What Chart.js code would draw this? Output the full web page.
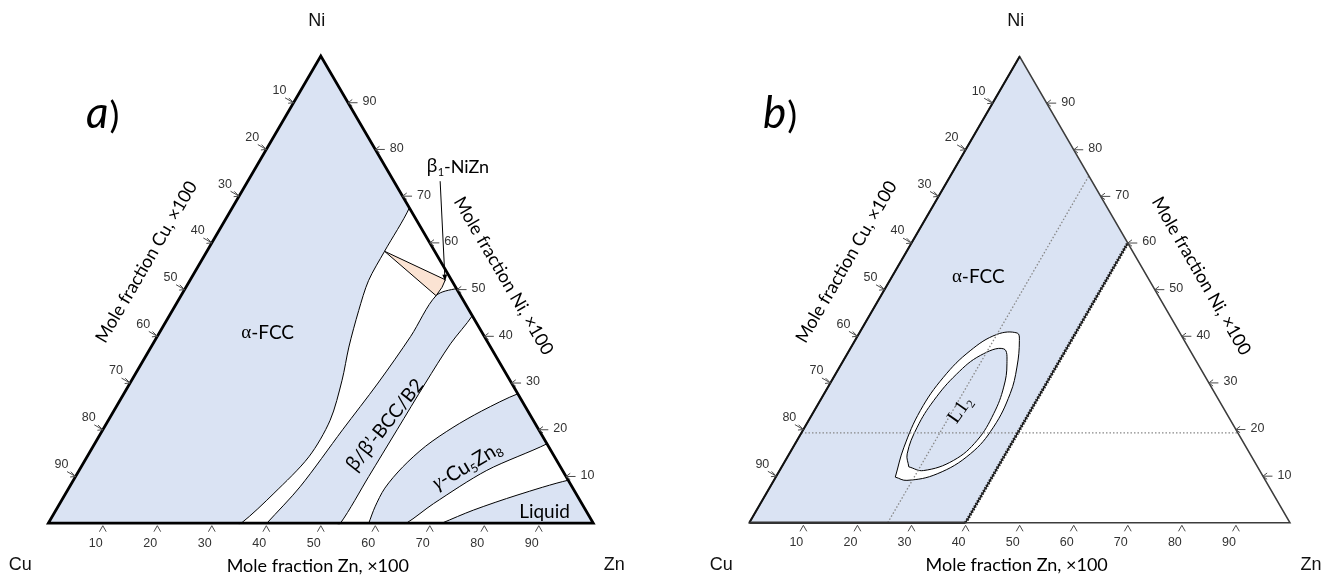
<!DOCTYPE html>
<html>
<head>
<meta charset="utf-8">
<title>Cu–Ni–Zn isothermal sections</title>
<script src="https://cdn.jsdelivr.net/npm/chart.js@4.4.1/dist/chart.umd.min.js"></script>
<style>
  html, body { margin: 0; padding: 0; background: #ffffff; }
  #wrap { position: relative; width: 1338px; height: 581px; overflow: hidden; background: #ffffff; }
  canvas { position: absolute; top: 0; }
</style>
</head>
<body>
<div id="wrap">
  <canvas id="panelA" width="669" height="581" style="left:0px"></canvas>
  <canvas id="panelB" width="669" height="581" style="left:669px"></canvas>
</div>
<script>
// Every composition below is a [Zn, Ni] pair in mole %, with Cu = 100 - Zn - Ni.
const tickValues = [10, 20, 30, 40, 50, 60, 70, 80, 90];

// ---- (a) phase fields ----
const alphaFieldA = [[0,100],[0,99],[0,1],[0,0],[1,0],[34.4,0],[35.4,0],[38.2,6.4],[40.7,14.2],[40.7,22],
  [38.6,30.6],[36.3,37.7],[34.2,45.5],[32.8,51.9],[32.6,58.2],[32.5,67.5],[31.5,68.5],[1,99],[0,100]];
const betaFieldA = [[40.1,0],[41.1,0],[52.6,0],[53.6,0],[53.8,10],[54.0,20],[54.2,30],[54.6,38.4],[55.6,44.4],
  [55.0,45.0],[50.4,49.6],[49.8,50.2],[46.8,48.7],[46.5,40],[45.5,30],[44.0,20],[42.3,7.8],[40.1,0]];
const beta1FieldA = [[32.6,58.2],[46.8,52.1],[47.0,50.5],[46.8,48.7],[32.6,58.2]];
const gammaFieldA = [[58.8,0],[59.8,0],[64.7,0],[65.7,0],[68.6,4.2],[74.8,11.3],[83.0,17.0],[82.4,17.6],
  [72.9,27.1],[72.3,27.7],[67.5,24.0],[64.0,20.5],[61.0,16.5],[59.0,12.0],[58.0,7.5],[58.2,3.5],[58.8,0]];
const liquidFieldA = [[72.2,0],[73.2,0],[99,0],[100,0],[99,1],[91.4,8.6],[90.8,9.2],[83.0,6.0],[76.6,2.8],[72.2,0]];

// ---- (b) phase fields ----
const fccFieldB = [[0,100],[0,0],[40,0],[40,60],[0,100]];
const fccLimitB = [[40,0],[40,60]];
const l12OuterB = [[22.1,9.8],[24.6,9.1],[29.5,10.5],[33.5,14.8],[34.9,20.5],[34.4,27.7],[32.8,33.4],[30.4,39.1],
  [29.2,40.7],[25.6,40.4],[22.4,36.9],[20.3,31.2],[19.6,24.1],[20.5,16.2],[22.1,9.8]];
const l12InnerB = [[23.5,12.0],[26.6,11.2],[31.1,13.4],[33.3,17.7],[33.5,23.4],[32.5,29.1],[30.6,34.1],[28.4,37.3],
  [24.8,35.9],[22.4,31.9],[21.0,26.2],[20.8,20.5],[21.8,14.8],[23.5,12.0]];
const guideZnB = [[25.6,0],[25.6,74.4]];
const guideNiB = [[0,19.3],[80.7,19.3]];

// triangle sides
const outline = [[50,0],[100,0],[0,100],[0,0],[50,0]];
const sideCuNi = [[0,0],[0,100]];
const baseUnderFcc = [[0,0],[40,0]];

const SQ = Math.sqrt(3) / 2;
const toXY = pairs => pairs.map(([zn, ni]) => ({ x: zn + ni / 2, y: ni * SQ }));

const BLUE = '#dae3f3';
const PEACH = '#fbe3d3';

function series(pairs, o) {
  return Object.assign({
    data: toXY(pairs), pointRadius: 0, borderColor: '#000', borderWidth: 1,
    backgroundColor: 'rgba(0,0,0,0)', fill: false, tension: 0
  }, o);
}

function richText(ctx, parts, x, y, angle, size, family, color) {
  ctx.save();
  ctx.translate(x, y);
  ctx.rotate(angle);
  ctx.fillStyle = color;
  ctx.textBaseline = 'middle';
  ctx.textAlign = 'left';
  const fonts = parts.map(p => (p.it ? 'italic ' : '') + (p.sub ? Math.round(size * 0.62) : size) + 'px ' + (p.f || family));
  let total = 0;
  const widths = parts.map((p, i) => { ctx.font = fonts[i]; const w = ctx.measureText(p.t).width; total += w; return w; });
  let cx = -total / 2;
  parts.forEach((p, i) => {
    ctx.font = fonts[i];
    ctx.fillText(p.t, cx, p.sub ? size * 0.3 : 0);
    cx += widths[i];
  });
  ctx.restore();
}

const SANS = '"Liberation Sans", Arial, sans-serif';
const BODY = 'Lato, "Open Sans", sans-serif';
const SERIF = '"Liberation Serif", "DejaVu Serif", serif';
const GREEK = '"Noto Sans", "DejaVu Sans", sans-serif';

function framePlugin(spec) {
  return {
    id: 'ternaryFrame',
    afterDraw(chart) {
      const ctx = chart.ctx;
      const xs = chart.scales.x, ys = chart.scales.y;
      const P = (zn, ni) => [xs.getPixelForValue(zn + ni / 2), ys.getPixelForValue(ni * SQ)];
      const [cuX, cuY] = P(0, 0), [niX, niY] = P(0, 100), [znX, znY] = P(100, 0);
      ctx.save();

      // axis ticks and numbers
      ctx.strokeStyle = '#4a4a4a';
      ctx.lineWidth = 1;
      ctx.fillStyle = '#333';
      ctx.font = '12.5px ' + SANS;
      ctx.textAlign = 'center';
      ctx.textBaseline = 'middle';
      tickValues.forEach(v => {
        let [x, y] = P(v, 0);
        ctx.beginPath(); ctx.moveTo(x - 3.4, y + 8.5); ctx.lineTo(x, y + 2.5); ctx.lineTo(x + 3.4, y + 8.5); ctx.stroke();
        ctx.fillText(String(v), x - 7, y + 20);

        [x, y] = P(0, 100 - v);
        ctx.beginPath(); ctx.moveTo(x - 8.5, y - 4.9); ctx.lineTo(x, y); ctx.stroke();
        ctx.beginPath(); ctx.moveTo(x - 4.8, y - 4.8); ctx.lineTo(x, y); ctx.lineTo(x - 5.4, y + 0.5); ctx.stroke();
        ctx.fillText(String(v), x - 14, y - 12);

        [x, y] = P(100 - v, v);
        ctx.beginPath(); ctx.moveTo(x + 9.5, y); ctx.lineTo(x, y); ctx.stroke();
        ctx.beginPath(); ctx.moveTo(x + 4.2, y - 3.2); ctx.lineTo(x, y); ctx.lineTo(x + 4.2, y + 3.2); ctx.stroke();
        ctx.fillText(String(v), x + 21.5, y - 1);
      });

      // corner elements
      ctx.fillStyle = '#111';
      ctx.font = '18px ' + SANS;
      ctx.fillText('Ni', niX - 4, niY - 35);
      ctx.fillText('Cu', cuX - 28, cuY + 42);
      ctx.fillText('Zn', znX + 21, znY + 42);

      // axis titles
      const leftAngle = Math.atan2(niY - cuY, niX - cuX);
      const rightAngle = Math.atan2(znY - niY, znX - niX);
      const [lmx, lmy] = P(0, 50), [rmx, rmy] = P(50, 50), [bmx, bmy] = P(50, 0);
      richText(ctx, [{ t: 'Mole fraction Cu, ×100' }], lmx - 38, lmy - 27.6, leftAngle, 18, BODY, '#000');
      richText(ctx, [{ t: 'Mole fraction Ni, ×100' }], rmx + 46.5, rmy - 13.7, rightAngle, 18, BODY, '#000');
      richText(ctx, [{ t: 'Mole fraction Zn, ×100' }], bmx - 3, bmy + 42.5, 0, 18, BODY, '#000');

      // panel letter
      ctx.fillStyle = '#000';
      ctx.textAlign = 'left';
      ctx.textBaseline = 'alphabetic';
      ctx.font = 'italic 44px ' + BODY;
      ctx.fillText(spec.letter, spec.letterX, 128);
      const lw = ctx.measureText(spec.letter).width;
      ctx.font = '37px ' + BODY;
      ctx.fillText(')', spec.letterX + lw + 1, 128);

      // phase names
      spec.labels.forEach(l => {
        const [x, y] = P(l.at[0], l.at[1]);
        richText(ctx, l.parts, x, y, (l.rot || 0) * Math.PI / 180, l.size || 19, BODY, '#000');
      });

      // pointer from a label to a small field
      if (spec.pointer) {
        const [x1, y1] = P(spec.pointer.from[0], spec.pointer.from[1]);
        const [x2, y2] = P(spec.pointer.to[0], spec.pointer.to[1]);
        const a = Math.atan2(y2 - y1, x2 - x1);
        ctx.strokeStyle = '#000';
        ctx.lineWidth = 1;
        ctx.beginPath(); ctx.moveTo(x1, y1); ctx.lineTo(x2 - 5 * Math.cos(a), y2 - 5 * Math.sin(a)); ctx.stroke();
        ctx.fillStyle = '#000';
        ctx.beginPath();
        ctx.moveTo(x2, y2);
        ctx.lineTo(x2 - 7 * Math.cos(a - 0.35), y2 - 7 * Math.sin(a - 0.35));
        ctx.lineTo(x2 - 7 * Math.cos(a + 0.35), y2 - 7 * Math.sin(a + 0.35));
        ctx.closePath(); ctx.fill();
      }
      ctx.restore();
    }
  };
}

function makeChart(canvasId, frame, datasets, spec) {
  const sx = (frame.right - frame.left) / 100;
  const sy = (frame.base - frame.top) / (100 * SQ);
  datasets.forEach((d, i) => { d.order = datasets.length - i; });
  return new Chart(document.getElementById(canvasId), {
    type: 'line',
    data: { datasets },
    options: {
      responsive: false,
      animation: false,
      devicePixelRatio: 1,
      events: [],
      layout: { padding: 0 },
      plugins: { legend: { display: false }, tooltip: { enabled: false }, title: { display: false } },
      scales: {
        x: { type: 'linear', display: false, bounds: 'data', min: -frame.left / sx, max: (669 - frame.left) / sx },
        y: { type: 'linear', display: false, bounds: 'data', min: -(581 - frame.base) / sy, max: frame.base / sy }
      }
    },
    plugins: [framePlugin(spec)]
  });
}

// (a) Cu–Ni–Zn section with the phase fields
makeChart('panelA', { left: 48.3, right: 593.3, base: 523.2, top: 56 }, [
  series(alphaFieldA, { backgroundColor: BLUE, fill: 'shape', tension: 0.3 }),
  series(betaFieldA, { backgroundColor: BLUE, fill: 'shape', tension: 0.3 }),
  series(gammaFieldA, { backgroundColor: BLUE, fill: 'shape', tension: 0.3 }),
  series(liquidFieldA, { backgroundColor: BLUE, fill: 'shape', tension: 0.3 }),
  series(beta1FieldA, { backgroundColor: PEACH, fill: 'shape' }),
  series(outline, { borderWidth: 2.7, borderJoinStyle: 'miter' })
], {
  letter: 'a', letterX: 86,
  labels: [
    { parts: [{ t: 'α', f: SERIF }, { t: '-FCC' }], at: [19.9, 40.7] },
    { parts: [{ t: 'β', f: GREEK }, { t: '/' }, { t: 'β', f: GREEK }, { t: '’-BCC/B2' }], at: [51.3, 21.0], rot: -51.6 },
    { parts: [{ t: 'γ', f: SERIF, it: true }, { t: '-Cu' }, { t: '5', sub: true }, { t: 'Zn' }, { t: '8', sub: true }], at: [70.7, 12.3], rot: -30.8, size: 20 },
    { parts: [{ t: 'Liquid' }], at: [89.85, 2.4] },
    { parts: [{ t: 'β', f: GREEK }, { t: '1', sub: true }, { t: '-NiZn' }], at: [37.0, 76.3], size: 18 }
  ],
  pointer: { from: [35.3, 73.2], to: [46.9, 51.8] }
});

// (b) single-phase FCC field with the L1₂ ordering region
makeChart('panelB', { left: 80.3, right: 621.0, base: 522.8, top: 56.5 }, [
  series(fccFieldB, { backgroundColor: BLUE, fill: 'shape', borderWidth: 0 }),
  series(l12OuterB, { backgroundColor: '#ffffff', fill: 'shape', tension: 0.4 }),
  series(l12InnerB, { backgroundColor: BLUE, fill: 'shape', tension: 0.4 }),
  series(guideZnB, { borderColor: '#888', borderWidth: 1.3, borderDash: [1.5, 2] }),
  series(guideNiB, { borderColor: '#888', borderWidth: 1.3, borderDash: [1.5, 2] }),
  series(fccLimitB, { borderColor: '#000', borderWidth: 1.2 }),
  series(fccLimitB, { borderColor: '#222', borderWidth: 3.2, borderDash: [1.6, 1.4] }),
  series(outline, { borderColor: '#3c3c3c', borderWidth: 1.5, borderJoinStyle: 'miter' }),
  series(sideCuNi, { borderColor: '#111', borderWidth: 2 }),
  series(baseUnderFcc, { borderColor: '#333', borderWidth: 2.6 })
], {
  letter: 'b', letterX: 94,
  labels: [
    { parts: [{ t: 'α', f: SERIF }, { t: '-FCC' }], at: [16.0, 52.7] },
    { parts: [{ t: 'L1', f: SERIF }, { t: '2', sub: true, f: SERIF }], at: [26.9, 24.2], rot: -55, size: 20 }
  ]
});
</script>
</body>
</html>
